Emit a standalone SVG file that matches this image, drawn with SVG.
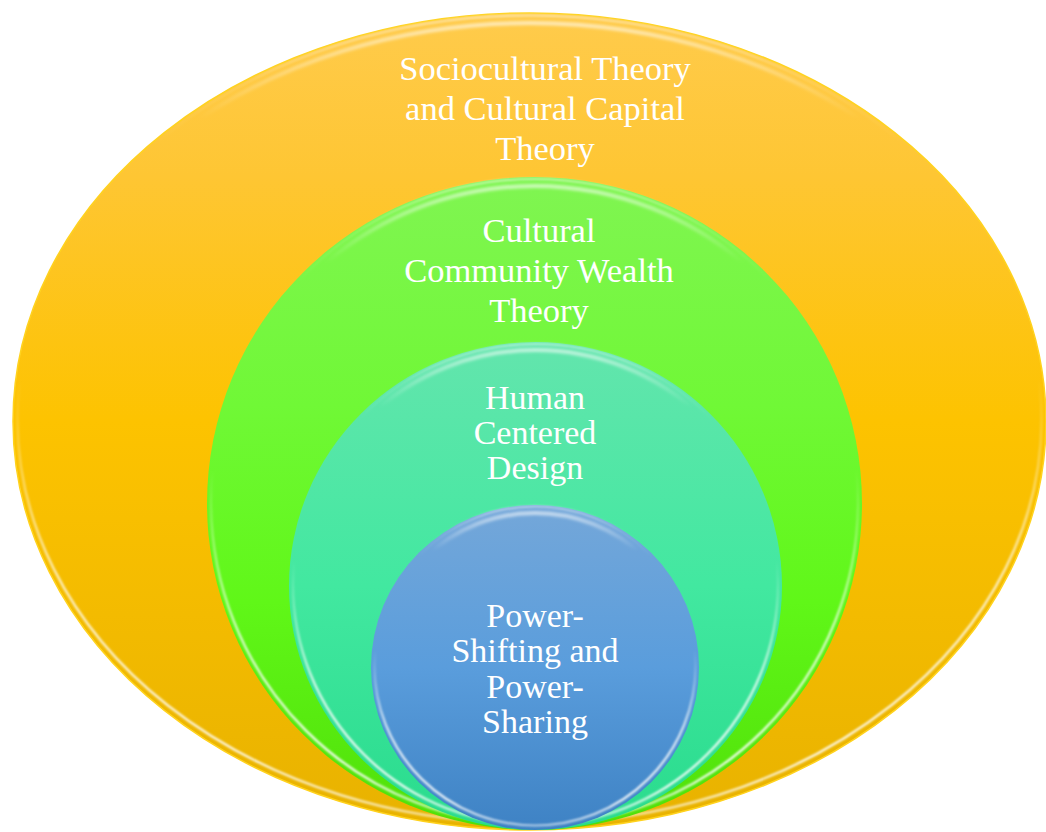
<svg xmlns="http://www.w3.org/2000/svg" width="1046" height="832" viewBox="0 0 1046 832">
  <defs>
    <linearGradient id="fillOuter" x1="0" y1="0" x2="0" y2="1">
      <stop offset="0" stop-color="#FFCB4C"/>
      <stop offset="0.2" stop-color="#FEC633"/>
      <stop offset="0.5" stop-color="#FDC300"/>
      <stop offset="1" stop-color="#E8B200"/>
    </linearGradient>
    <linearGradient id="fillGreen" x1="0" y1="0" x2="0" y2="1">
      <stop offset="0" stop-color="#80F552"/>
      <stop offset="0.35" stop-color="#70F836"/>
      <stop offset="0.65" stop-color="#60F718"/>
      <stop offset="1" stop-color="#50DF08"/>
    </linearGradient>
    <linearGradient id="fillTeal" x1="0" y1="0" x2="0" y2="1">
      <stop offset="0" stop-color="#63E5AD"/>
      <stop offset="0.5" stop-color="#42E8A0"/>
      <stop offset="1" stop-color="#29DB8D"/>
    </linearGradient>
    <linearGradient id="fillBlue" x1="0" y1="0" x2="0" y2="1">
      <stop offset="0" stop-color="#74A7D9"/>
      <stop offset="0.5" stop-color="#5A9DDC"/>
      <stop offset="1" stop-color="#3E82C4"/>
    </linearGradient>
    <!-- bevel glint along the rim: bright at the lower rim -->
    <linearGradient id="glint" x1="0" y1="0" x2="0" y2="1">
      <stop offset="0" stop-color="#FFFFFF" stop-opacity="0.5"/>
      <stop offset="0.08" stop-color="#FFFFFF" stop-opacity="0.15"/>
      <stop offset="0.16" stop-color="#FFFFFF" stop-opacity="0"/>
      <stop offset="0.45" stop-color="#FFFFFF" stop-opacity="0"/>
      <stop offset="0.7" stop-color="#FFFFFF" stop-opacity="0.8"/>
      <stop offset="0.92" stop-color="#FFFFFF" stop-opacity="0.95"/>
      <stop offset="1" stop-color="#FFFFFF" stop-opacity="0.6"/>
    </linearGradient>
    <!-- soft band just inside the top of each shape -->
    <linearGradient id="topBand" x1="0" y1="0" x2="0" y2="1">
      <stop offset="0" stop-color="#FFFFFF" stop-opacity="0.6"/>
      <stop offset="0.05" stop-color="#FFFFFF" stop-opacity="0.35"/>
      <stop offset="0.12" stop-color="#FFFFFF" stop-opacity="0"/>
      <stop offset="1" stop-color="#FFFFFF" stop-opacity="0"/>
    </linearGradient>
    <filter id="soft" x="-5%" y="-5%" width="110%" height="110%">
      <feGaussianBlur stdDeviation="0.9"/>
    </filter>
    <filter id="softer" x="-5%" y="-5%" width="110%" height="110%">
      <feGaussianBlur stdDeviation="1.6"/>
    </filter>
  </defs>
  <style>
    .label { font-family: "Liberation Serif", "Times New Roman", serif; fill: #FFFFFF; text-anchor: middle; }
    .big { font-size: 34.5px; }
    .small { font-size: 34px; }
    .rim { fill: none; stroke-width: 2.2; filter: url(#soft); }
    .band { fill: none; stroke-width: 4; filter: url(#softer); stroke: url(#topBand); }
  </style>

  <!-- outermost layer -->
  <g id="sociocultural">
    <ellipse cx="529.5" cy="421.5" rx="516.5" ry="408.5" fill="url(#fillOuter)" stroke="#FFD21E" stroke-width="1.5"/>
    <ellipse class="rim" cx="529.5" cy="419.5" rx="512" ry="404" stroke="url(#glint)"/>
    <ellipse class="band" cx="529.5" cy="423" rx="508" ry="400"/>
    <text class="label big" x="545" y="80">Sociocultural Theory</text>
    <text class="label big" x="545" y="120">and Cultural Capital</text>
    <text class="label big" x="545" y="160">Theory</text>
  </g>

  <!-- second layer -->
  <g id="community-wealth">
    <ellipse cx="534.5" cy="503.5" rx="327.5" ry="326.5" fill="url(#fillGreen)"/>
    <ellipse class="rim" cx="534.5" cy="502" rx="323.5" ry="323" stroke="url(#glint)"/>
    <ellipse class="band" cx="534.5" cy="505" rx="320" ry="319"/>
    <text class="label big" x="539" y="242">Cultural</text>
    <text class="label big" x="539" y="282">Community Wealth</text>
    <text class="label big" x="539" y="322">Theory</text>
  </g>

  <!-- third layer -->
  <g id="human-centered">
    <ellipse cx="535.5" cy="586" rx="246.5" ry="244" fill="url(#fillTeal)"/>
    <ellipse class="rim" cx="535.5" cy="584.5" rx="242.5" ry="240.5" stroke="url(#glint)"/>
    <ellipse class="band" cx="535.5" cy="587" rx="239" ry="237"/>
    <text class="label small" x="535" y="409">Human</text>
    <text class="label small" x="535" y="444">Centered</text>
    <text class="label small" x="535" y="479">Design</text>
  </g>

  <!-- innermost layer -->
  <g id="power-sharing">
    <ellipse cx="535" cy="667.5" rx="164" ry="162.5" fill="url(#fillBlue)"/>
    <ellipse class="rim" cx="535" cy="666" rx="160.5" ry="159.5" stroke="url(#glint)"/>
    <ellipse class="band" cx="535" cy="668.5" rx="157" ry="155.5"/>
    <text class="label small" x="535" y="627">Power-</text>
    <text class="label small" x="535" y="662">Shifting and</text>
    <text class="label small" x="535" y="697.5">Power-</text>
    <text class="label small" x="535" y="733">Sharing</text>
  </g>
</svg>
